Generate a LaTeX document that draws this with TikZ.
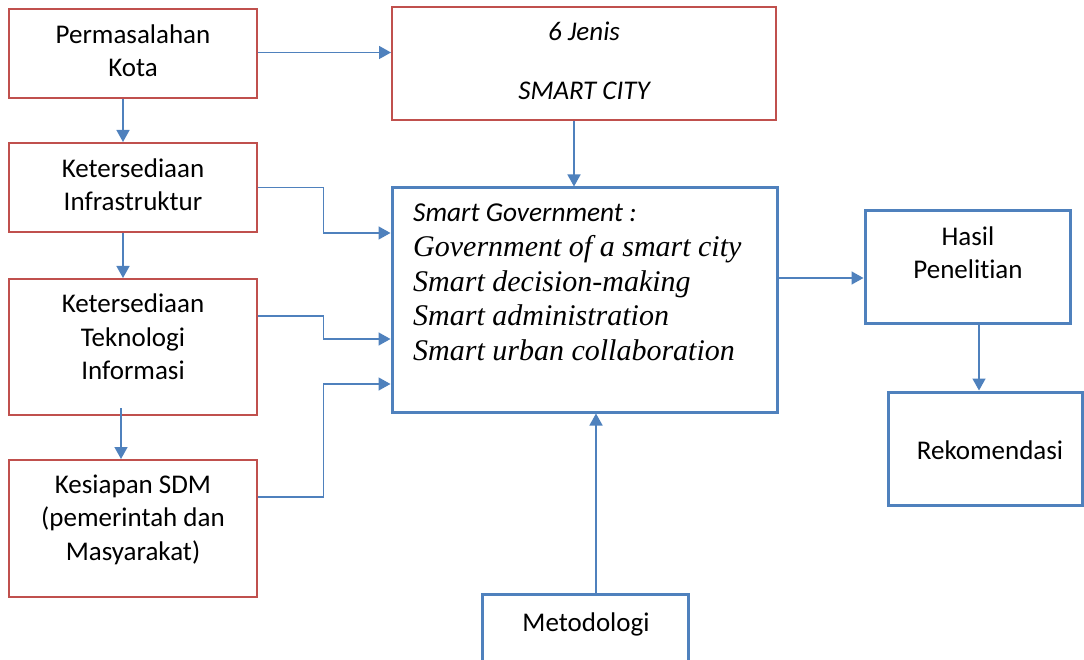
\documentclass[tikz,border=0pt]{standalone}
\usepackage{fontspec}
\setmainfont[Ligatures=NoCommon]{Carlito}
\newfontfamily\tnr{Liberation Serif}
\usetikzlibrary{arrows.meta}
\definecolor{boxred}{HTML}{C0504D}
\definecolor{boxblue}{HTML}{4F81BD}

\begin{document}
\begin{tikzpicture}[x=1pt,y=-1pt,
  redbox/.style={draw=boxred, line width=2pt, inner sep=0pt},
  bluebox/.style={draw=boxblue, line width=3pt, inner sep=0pt},
  lbl/.style={inner sep=0pt, align=center, font=\fontsize{27}{33.5}\selectfont},
  govline/.style={inner sep=0pt, anchor=base west},
  link/.style={draw=boxblue, line width=1.5pt, -{Triangle[width=13pt,length=12pt]}}]
\clip (0,0) rectangle (1084,660);

% boxes
\node[redbox, minimum width=248pt, minimum height=89pt]  (perm)  at (133,53.5)  {};
\node[redbox, minimum width=248pt, minimum height=89pt]  (infra) at (133,187.5) {};
\node[redbox, minimum width=248pt, minimum height=136pt] (tek)   at (133,347)   {};
\node[redbox, minimum width=248pt, minimum height=137pt] (sdm)   at (133,528.5) {};
\node[redbox, minimum width=384pt, minimum height=113pt] (jenis) at (584,63.5)  {};
\node[bluebox, minimum width=385pt, minimum height=224pt] (gov)  at (584.5,300) {};
\node[bluebox, minimum width=205pt, minimum height=112pt] (hasil) at (967.5,267) {};
\node[bluebox, minimum width=194pt, minimum height=113pt] (rek)  at (985,448.5) {};
\node[bluebox, minimum width=206pt, minimum height=92pt]  (metod) at (585,640)  {};

% box texts
\node[lbl] (tperm)  at (133,50.5)  {Permasalahan\\Kota};
\node[lbl] (tinfra) at (133,184.5) {Ketersediaan\\Infrastruktur};
\node[lbl] (ttek)   at (133,337)   {Ketersediaan\\Teknologi\\Informasi};
\node[lbl] (tsdm)   at (133,519.5) {Kesiapan SDM\\(pemerintah dan\\Masyarakat)};
\node[lbl, font=\fontsize{27}{33.5}\selectfont\itshape] (tjenis) at (584,61) {6 Jenis\\[25.5pt]SMART CITY};
\node[lbl] (thasil) at (968,252.5) {Hasil\\Penelitian};
\node[lbl] (trek)   at (990,450.5) {Rekomendasi};
\node[lbl] (tmetod) at (586,624)   {Metodologi};

\node[govline, font=\fontsize{27.3}{30}\selectfont\itshape] (g1) at (413,222) {Smart Government :};
\node[govline, font=\fontsize{30}{34}\selectfont\tnr\itshape] (g2) at (413,257) {Government of a smart city};
\node[govline, font=\fontsize{30}{34}\selectfont\tnr\itshape] (g3) at (413,291) {Smart decision-making};
\node[govline, font=\fontsize{30}{34}\selectfont\tnr\itshape] (g4) at (413,325) {Smart administration};
\node[govline, font=\fontsize{30}{34}\selectfont\tnr\itshape] (g5) at (413,360) {Smart urban collaboration};

% connectors
\draw[link] ([yshift=1pt]perm.east) -- ([yshift=1pt]perm.east -| jenis.west);
\draw[link] ([xshift=-10pt]perm.south) -- ([xshift=-10pt]perm.south |- infra.north);
\draw[link] ([xshift=-10pt]infra.south) -- ([xshift=-10pt]infra.south |- tek.north);
\draw[link] ([xshift=-12pt,yshift=8pt]tek.south) -- ([xshift=-12pt]tek.south |- sdm.north);
\draw[link] (infra.east) -| ([xshift=-67pt,yshift=67pt]gov.west) -- ([yshift=67pt]gov.west);
\draw[link] ([yshift=31pt]tek.east) -| ([xshift=-67pt,yshift=-39pt]gov.west) -- ([yshift=-39pt]gov.west);
\draw[link] ([yshift=31.5pt]sdm.east) -| ([xshift=-67pt,yshift=-84pt]gov.west) -- ([yshift=-84pt]gov.west);
\draw[link] ([xshift=-10pt]jenis.south) -- ([xshift=-10pt]jenis.south |- gov.north);
\draw[link] ([yshift=22pt]gov.east) -- ([yshift=22pt]gov.east -| hasil.west);
\draw[link] ([xshift=11.5pt]hasil.south) -- ([xshift=11.5pt]hasil.south |- rek.north);
\draw[link] ([xshift=11pt]metod.north) -- ([xshift=11pt]metod.north |- gov.south);
\end{tikzpicture}
\end{document}
